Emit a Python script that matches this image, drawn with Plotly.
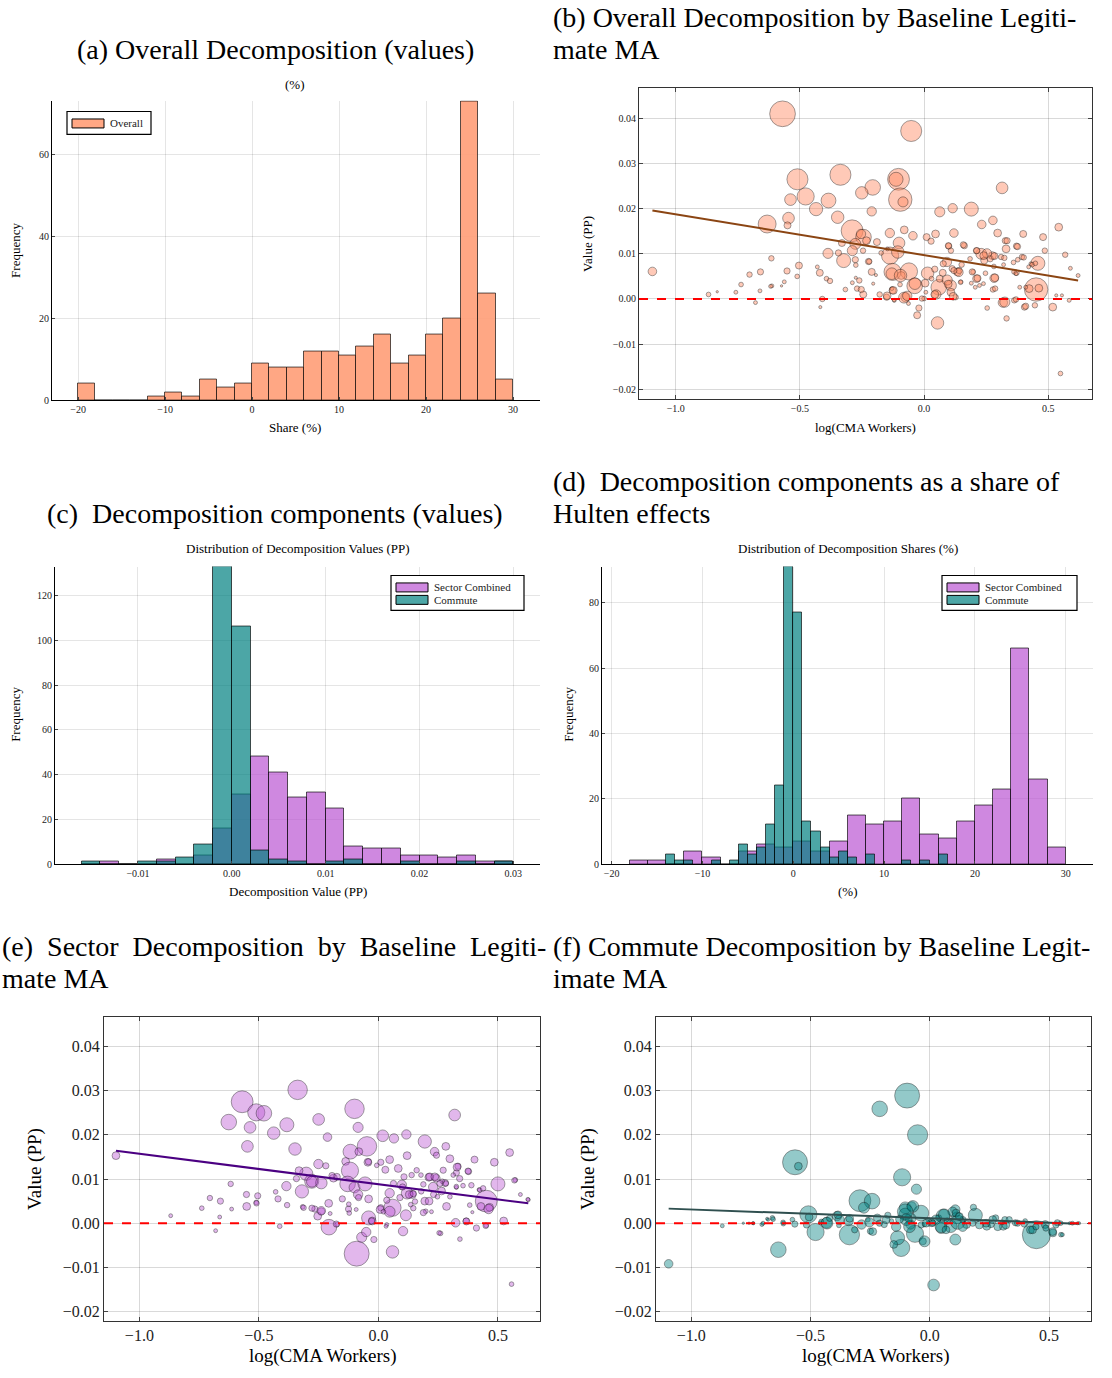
import plotly.graph_objects as go

W, H = 1112, 1378
def PX(x): return x / W
def PY(y): return 1 - y / H

SERIF = "Liberation Serif"

# ---------------- (a) Overall shares histogram ----------------
a_bin_left = [-20, -18, -16, -14, -12, -10, -8, -6, -4, -2, 0, 2, 4, 6, 8, 10, 12, 14, 16, 18, 20, 22, 24, 26, 28]
a_counts   = [4, 0, 0, 0, 1, 2, 1, 5, 3, 4, 9, 8, 8, 12, 12, 11, 13, 16, 9, 11, 16, 20, 73, 26, 5]
a_bin_width = 2

# ---------------- (c) decomposition values histogram ----------------
c_bin_left = [-0.016, -0.014, -0.012, -0.010, -0.008, -0.006, -0.004, -0.002, 0.000, 0.002, 0.004, 0.006,
              0.008, 0.010, 0.012, 0.014, 0.016, 0.018, 0.020, 0.022, 0.024, 0.026, 0.028]
c_sector   = [0, 1, 0, 0, 2, 0, 4, 16, 31, 48, 41, 30, 32, 25, 8, 7, 7, 4, 4, 3, 4, 1, 1]
c_commute  = [1, 0, 0, 1, 1, 3, 9, 133, 106, 6, 2, 1, 0, 1, 2, 0, 0, 1, 0, 0, 1, 0, 1]
c_bin_width = 0.002

# ---------------- (d) decomposition shares histogram ----------------
d_sector_left = [-18, -16, -14, -12, -10, -8, -6, -4, -2, 0, 2, 4, 6, 8, 10, 12, 14, 16, 18, 20, 22, 24, 26, 28]
d_sector      = [1, 1, 0, 4, 2, 0, 4, 6, 5, 7, 4, 7, 15, 12, 13, 20, 9, 8, 13, 18, 23, 66, 26, 5]
d_sector_width = 2
d_commute_left = [-14, -13, -12, -9, -7, -6, -5, -4, -3, -2, -1, 0, 1, 2, 3, 4, 5, 6, 8, 12, 14, 16]
d_commute      = [3, 1, 1, 1, 1, 6, 3, 5, 12, 24, 91, 77, 13, 10, 5, 2, 4, 2, 3, 1, 1, 3]
d_commute_width = 1

# ---------------- (b) overall value vs log(CMA workers) ----------------
b_x = [-0.570, -0.052, -0.510, -0.337, -0.103, -0.113, -0.096, -0.085, -0.207, -0.251, -0.477, -0.538,
       -0.385, -0.435, -0.632, -0.546, -0.550, -0.348, -0.211, -0.290, -0.244, -0.254, -0.277, -0.289,
       -0.331, -0.387, -0.324, -0.345, -0.232, -0.190, -0.224, -0.138, -0.101, -0.080, -0.045, -0.137,
       -0.106, -0.127, -0.130, -0.061, -0.038, -0.092, -0.075, 0.014, 0.059, 0.049, 0.108, 0.108,
       0.054, 0.063, 0.115, 0.190, 0.232, 0.277, 0.314, 0.296, 0.120, 0.046, 0.010, 0.028,
       0.399, 0.542, 0.479, 0.458, 0.451, 0.423, 0.327, 0.330, 0.372, 0.230, 0.275, 0.211,
       0.162, 0.099, 0.092, 0.134, 0.141, 0.211, 0.282, 0.277, 0.372, 0.317, 0.363, 0.404,
       0.446, 0.518, 0.332, 0.254, 0.549, 0.568, 0.589, 0.620, 0.486, 0.430, 0.394, -1.094,
       -0.868, -0.758, -0.737, -0.703, -0.679, -0.659, -0.661, -0.615, -0.613, -0.552, -0.563, -0.504,
       -0.511, -0.430, -0.420, -0.393, -0.379, -0.410, -0.418, -0.317, -0.289, -0.261, -0.270, -0.245,
       -0.211, -0.179, -0.151, -0.127, -0.120, -0.063, -0.021, -0.028, 0.000, 0.007, 0.063, 0.127,
       0.148, 0.239, -0.173, -0.148, 0.077, 0.113, 0.197, 0.242, 0.310, 0.362, 0.584, 0.555]
b_y = [0.0410, 0.0372, 0.0265, 0.0275, 0.0265, 0.0265, 0.0220, 0.0215, 0.0247, 0.0235, 0.0227, 0.0220,
       0.0218, 0.0199, 0.0166, 0.0179, 0.0163, 0.0181, 0.0194, 0.0151, 0.0137, 0.0144, 0.0122, 0.0107,
       0.0124, 0.0101, 0.0085, 0.0102, 0.0129, 0.0126, 0.0083, 0.0146, 0.0124, 0.0153, 0.0140, 0.0096,
       0.0104, 0.0060, 0.0056, 0.0061, 0.0029, 0.0052, 0.0004, 0.0057, 0.0026, 0.0010, 0.0030, 0.0015,
       -0.0053, 0.0193, 0.0201, 0.0199, 0.0165, 0.0174, 0.0246, 0.0146, 0.0146, 0.0144, 0.0137, 0.0128,
       0.0144, 0.0159, 0.0137, 0.0079, 0.0021, 0.0023, 0.0129, 0.0111, 0.0117, 0.0100, 0.0096, 0.0107,
       0.0118, 0.0117, 0.0082, 0.0060, 0.0063, 0.0045, 0.0046, 0.0021, 0.0058, -0.0008, -0.0003, -0.0018,
       -0.0014, -0.0018, -0.0043, -0.0020, -0.0165, 0.0098, 0.0068, 0.0052, 0.0107, 0.0078, 0.0093, 0.0061,
       0.0010, 0.0015, 0.0032, 0.0054, -0.0008, 0.0060, 0.0018, 0.0090, 0.0029, 0.0062, 0.0038, 0.0074,
       0.0050, 0.0071, 0.0058, 0.0045, 0.0040, 0.0000, -0.0018, 0.0021, 0.0036, 0.0041, 0.0023, 0.0010,
       0.0060, 0.0010, 0.0004, 0.0019, -0.0003, -0.0010, -0.0020, -0.0036, 0.0001, 0.0015, 0.0045, 0.0004,
       0.0038, 0.0034, 0.0102, 0.0111, 0.0078, 0.0067, 0.0060, 0.0085, 0.0093, 0.0060, -0.0003, 0.0008]
b_w = [33, 27, 27, 27, 28, 18, 30, 13, 20, 16, 22, 15,
       19, 17, 23, 15, 9, 16, 12, 28, 20, 12, 14, 13,
       9, 13, 18, 8, 10, 9, 8, 12, 15, 10, 11, 22,
       16, 22, 15, 22, 20, 10, 12, 16, 20, 12, 14, 10,
       16, 13, 12, 18, 11, 11, 15, 10, 11, 10, 9, 8,
       9, 10, 9, 18, 30, 10, 8, 10, 8, 14, 10, 8,
       8, 8, 12, 10, 8, 10, 11, 7, 7, 12, 7, 8,
       7, 10, 7, 6, 6, 7, 5, 5, 7, 5, 7, 11,
       6, 5, 6, 7, 5, 8, 5, 7, 5, 8, 5, 9,
       6, 5, 9, 6, 7, 7, 4, 6, 5, 7, 7, 9,
       9, 7, 8, 9, 5, 5, 8, 9, 6, 5, 9, 7,
       5, 5, 6, 5, 8, 8, 6, 9, 7, 6, 5, 4]
b_more_x = [-0.833, -0.618, -0.574, -0.275, -0.253, -0.277, -0.275, -0.246, -0.221, -0.205, -0.194, -0.130,
            -0.121, -0.097, -0.081, 0.334, 0.376, 0.462, 0.409, 0.325, 0.370, 0.286, 0.285, 0.215,
            0.194, 0.140, 0.043, 0.004, -0.037, -0.095, -0.124, 0.117, 0.158, 0.098, 0.108, 0.151,
            0.185, 0.212, 0.253, 0.240, 0.266, 0.283, 0.323, 0.360, 0.370, 0.401, 0.435, 0.448,
            0.421, 0.377, 0.281, 0.320, 0.247, 0.190, 0.223, 0.206, 0.385, 0.409, 0.532, 0.147,
            0.093, -0.009, -0.068, -0.149, 0.043, 0.030, 0.075, 0.120, 0.097]
b_more_y = [0.0016, 0.0028, 0.0029, 0.0047, 0.0021, 0.0087, 0.0075, 0.0107, 0.0083, 0.0034, 0.0053, 0.0023,
            -0.0003, 0.0032, 0.0003, 0.0129, 0.0116, 0.0024, -0.0016, -0.0007, -0.0001, 0.0023, 0.0047, 0.0046,
            0.0060, 0.0059, 0.0010, 0.0035, 0.0034, 0.0052, 0.0019, 0.0006, 0.0120, 0.0118, 0.0107, 0.0076,
            0.0089, 0.0107, 0.0101, 0.0096, 0.0089, 0.0095, 0.0091, 0.0081, 0.0056, 0.0092, 0.0076, 0.0079,
            0.0071, 0.0087, 0.0072, 0.0076, 0.0057, 0.0035, 0.0030, 0.0026, 0.0026, 0.0026, 0.0008, 0.0037,
            0.0042, 0.0001, 0.0007, 0.0007, 0.0066, 0.0045, 0.0058, 0.0063, 0.0033]
b_more_w = [3, 5, 3, 4, 8, 8, 6, 7, 7, 4, 4, 5,
            4, 6, 14, 8, 8, 10, 8, 13, 7, 7, 10, 9,
            8, 11, 10, 10, 15, 16, 10, 10, 8, 8, 7, 7,
            6, 8, 12, 10, 8, 9, 7, 6, 5, 7, 6, 6,
            5, 6, 6, 5, 6, 5, 5, 5, 5, 5, 4, 6,
            13, 7, 12, 10, 8, 6, 9, 8, 10]
b_fit_x = [-1.094, 0.620]
b_fit_y = [0.0196, 0.0041]

# ---------------- (e) sector value vs log(CMA workers) ----------------
e_x = [-0.570, -0.338, -0.511, -0.479, -0.626, -0.537, -0.548, -0.438, -0.383, -0.250, -0.349, -0.213,
       -0.100, -0.085, -0.048, -0.117, -0.082, 0.018, 0.065, 0.117, 0.194, 0.319, 0.235, 0.282,
       0.120, 0.047, 0.010, 0.029, -0.044, -0.137, -0.251, -0.220, -0.119, -0.302, -0.332, -0.279,
       -0.239, -0.320, -0.129, -0.100, -0.056, -0.188, -0.085, -0.041, 0.047, 0.098, 0.120, 0.142,
       0.059, 0.047, 0.115, -0.041, -0.026, -0.070, -0.051, -0.091, 0.059, -0.207, 0.103, -0.019,
       0.194, 0.211, 0.242, 0.279, 0.326, 0.333, 0.377, 0.402, 0.485, 0.549, 0.500, 0.451,
       0.465, 0.429, 0.524, 0.323, 0.367, 0.410, 0.451, 0.260, 0.341, 0.557, 0.573, 0.594,
       0.627, 0.285, 0.231, -1.098, -0.869, -0.739, -0.705, -0.681, -0.661, -0.664, -0.618, -0.614,
       -0.552, -0.551, -0.505, -0.511, -0.430, -0.420, -0.382, -0.413, -0.317, -0.266, -0.254, -0.239,
       -0.173, -0.151, -0.125, -0.122, 0.010, 0.035, 0.135, 0.179, 0.326, 0.421, 0.198, 0.267]
e_y = [0.0275, 0.0302, 0.0251, 0.0249, 0.0229, 0.0217, 0.0174, 0.0204, 0.0223, 0.0235, 0.0168, 0.0195,
       0.0259, 0.0217, 0.0174, 0.0162, 0.0162, 0.0198, 0.0192, 0.0201, 0.0185, 0.0245, 0.0162, 0.0174,
       0.0153, 0.0144, 0.0138, 0.0121, 0.0138, 0.0140, 0.0134, 0.0130, 0.0119, 0.0112, 0.0119, 0.0095,
       0.0091, 0.0072, 0.0089, 0.0081, 0.0089, 0.0102, 0.0065, 0.0055, 0.0068, 0.0087, 0.0068, 0.0065,
       0.0035, 0.0026, 0.0018, 0.0012, 0.0005, -0.0032, -0.0020, -0.0069, -0.0065, -0.0009, -0.0018, -0.0037,
       0.0050, 0.0104, 0.0102, 0.0091, 0.0114, 0.0129, 0.0117, 0.0144, 0.0138, 0.0160, 0.0089, 0.0050,
       0.0036, 0.0038, 0.0005, 0.0001, 0.0005, -0.0011, -0.0005, -0.0023, -0.0036, -0.0138, 0.0098, 0.0065,
       0.0053, 0.0038, 0.0065, 0.0153, 0.0017, 0.0034, 0.0057, -0.0017, 0.0050, 0.0014, 0.0089, 0.0032,
       0.0065, 0.0038, 0.0062, 0.0047, 0.0071, 0.0055, 0.0041, -0.0007, 0.0037, 0.0032, 0.0016, 0.0027,
       -0.0003, 0.0055, 0.0032, 0.0023, 0.0035, -0.0003, 0.0042, 0.0072, 0.0081, 0.0076, 0.0027, 0.0095]
e_w = [28, 25, 22, 20, 20, 15, 15, 16, 18, 15, 16, 11,
       25, 13, 25, 19, 10, 15, 12, 12, 17, 15, 11, 10,
       10, 10, 8, 9, 10, 10, 12, 8, 22, 17, 10, 18,
       15, 17, 20, 14, 18, 10, 12, 10, 12, 12, 15, 10,
       22, 14, 14, 18, 10, 13, 12, 32, 16, 20, 12, 8,
       10, 10, 10, 9, 8, 8, 8, 9, 10, 10, 18, 28,
       10, 10, 10, 11, 8, 8, 6, 6, 6, 6, 6, 5,
       5, 10, 8, 10, 5, 6, 7, 5, 8, 5, 7, 5,
       8, 10, 8, 6, 6, 8, 7, 6, 6, 8, 10, 9,
       6, 8, 8, 6, 8, 5, 6, 7, 5, 5, 6, 6]
e_more_x = [-0.278, -0.385, -0.343, -0.174, -0.194, -0.083, -0.124, -0.042, 0.083, 0.107, 0.139, 0.160,
            0.063, 0.129, 0.146, 0.101, 0.090, 0.153, 0.188, 0.215, 0.236, 0.229, 0.257, 0.282,
            0.264, 0.247, 0.212, 0.188, 0.146, 0.035, 0.007, -0.028, -0.176, -0.239, -0.278, -0.313,
            -0.208, -0.202, -0.093, -0.510, 0.368, 0.449, 0.461, 0.569, 0.625, 0.375, 0.329, 0.299,
            0.340, 0.389, 0.354, 0.326, 0.424, 0.438, 0.382, 0.393, 0.299, 0.222, 0.243, 0.271,
            0.313, 0.178, -0.007, 0.021, 0.032, 0.254]
e_more_y = [0.0094, 0.0084, 0.0101, 0.0105, 0.0108, 0.0058, 0.0043, 0.0139, 0.0124, 0.0105, 0.0109, 0.0120,
            0.0090, 0.0065, 0.0067, 0.0082, 0.0058, 0.0049, 0.0088, 0.0105, 0.0105, 0.0082, 0.0090, 0.0090,
            0.0073, 0.0060, 0.0050, 0.0024, 0.0034, 0.0052, 0.0031, 0.0005, -0.0002, 0.0028, 0.0034, 0.0035,
            0.0045, 0.0022, 0.0031, 0.0045, 0.0004, -0.0006, 0.0032, 0.0097, 0.0054, 0.0118, 0.0127, 0.0146,
            0.0101, 0.0086, 0.0085, 0.0083, 0.0075, 0.0079, 0.0041, 0.0025, 0.0060, 0.0026, 0.0154, 0.0120,
            0.0109, 0.0109, 0.0131, 0.0026, -0.0007, -0.0022]
e_more_w = [14, 12, 8, 9, 8, 8, 6, 8, 10, 8, 7, 7,
            8, 10, 8, 8, 8, 7, 7, 10, 10, 12, 8, 7,
            10, 6, 10, 8, 7, 8, 10, 8, 8, 11, 8, 7,
            10, 5, 5, 7, 9, 7, 12, 7, 5, 8, 10, 10,
            8, 7, 6, 6, 6, 7, 6, 4, 6, 5, 8, 8,
            6, 6, 6, 6, 5, 6]
e_fit_x = [-1.098, 0.627]
e_fit_y = [0.0164, 0.0045]

# ---------------- (f) commute value vs log(CMA workers) ----------------
f_x = [-0.095, -0.210, -0.051, -0.565, -0.551, -0.116, -0.056, -0.293, -0.242, -0.276, -0.509, -0.506,
       -0.479, -0.635, -0.337, -1.095, 0.016, -0.120, -0.135, -0.151, -0.062, -0.037, -0.103, -0.076,
       -0.103, -0.081, -0.029, 0.056, 0.048, 0.088, 0.107, 0.107, 0.114, 0.191, 0.183, 0.447,
       0.422, 0.516, 0.550, 0.535, 0.308, 0.276, 0.239, 0.359, 0.400, 0.484, 0.257, 0.154,
       0.007, -0.191, -0.176, -0.220, -0.249, -0.286, -0.340, -0.389, -0.433, -0.381, -0.576, -0.614,
       -0.660, -0.682, -0.704, -0.740, -0.758, -0.870, 0.620, 0.587, 0.315, 0.037, 0.073, 0.139,
       -0.007, -0.161, -0.260, -0.459, -0.022, -0.081]
f_y = [0.0289, 0.0259, 0.0200, 0.0138, 0.0129, 0.0104, 0.0077, 0.0051, 0.0050, 0.0035, 0.0020, 0.0014,
       -0.0020, -0.0060, -0.0026, -0.0092, -0.0140, -0.0056, -0.0033, -0.0048, -0.0024, 0.0023, 0.0035, 0.0038,
       0.0020, -0.0003, -0.0041, 0.0016, -0.0011, -0.0007, -0.0037, 0.0031, 0.0012, 0.0018, 0.0036, -0.0026,
       -0.0015, -0.0022, -0.0026, 0.0001, -0.0007, 0.0012, -0.0007, 0.0001, 0.0005, -0.0003, -0.0003, -0.0003,
       0.0001, -0.0003, 0.0018, 0.0012, -0.0018, -0.0003, 0.0005, 0.0016, 0.0001, -0.0005, 0.0008, -0.0001,
       0.0012, 0.0010, -0.0003, 0.0000, 0.0000, -0.0006, 0.0000, 0.0000, 0.0008, 0.0012, 0.0005, 0.0008,
       0.0008, 0.0005, 0.0008, 0.0001, -0.0003, 0.0011]
f_w = [32, 20, 26, 32, 10, 22, 13, 28, 20, 14, 22, 10,
       22, 20, 26, 11, 15, 22, 18, 10, 22, 20, 15, 12,
       16, 12, 9, 18, 14, 16, 14, 12, 15, 18, 8, 36,
       10, 10, 6, 8, 10, 8, 10, 8, 6, 10, 8, 10,
       10, 8, 8, 10, 8, 12, 12, 12, 14, 6, 6, 6,
       6, 4, 5, 4, 3, 5, 4, 4, 8, 8, 8, 8,
       6, 6, 6, 5, 6, 14]
f_more_x = [-0.071, -0.103, -0.099, -0.085, -0.141, -0.127, -0.183, -0.211, -0.239, -0.253, -0.315, -0.336,
            -0.378, -0.385, -0.431, -0.420, -0.455, -0.517, -0.566, -0.657, -0.615, -0.678, -0.699, -0.741,
            -0.782, 0.026, 0.047, 0.061, 0.096, 0.117, 0.110, 0.124, 0.138, 0.068, 0.236, 0.264,
            0.285, 0.319, 0.333, 0.368, 0.396, 0.431, 0.445, 0.487, 0.515, 0.529, 0.556, 0.549,
            0.598, 0.626, -0.036, -0.015, 0.013, 0.180, 0.208, 0.304, -0.022]
f_more_y = [0.0038, 0.0026, 0.0008, -0.0008, -0.0008, 0.0009, 0.0008, 0.0000, -0.0019, 0.0002, -0.0015, 0.0011,
            0.0008, 0.0019, 0.0000, 0.0011, 0.0004, -0.0004, -0.0002, 0.0009, 0.0002, 0.0008, 0.0000, 0.0000,
            0.0000, 0.0008, -0.0008, 0.0019, 0.0026, 0.0002, 0.0023, 0.0015, -0.0008, -0.0015, 0.0000, 0.0008,
            -0.0008, -0.0004, 0.0008, 0.0000, -0.0002, -0.0015, -0.0008, -0.0011, -0.0019, -0.0004, -0.0026, 0.0000,
            0.0000, 0.0000, -0.0004, 0.0000, 0.0000, 0.0000, -0.0004, 0.0002, -0.0041]
f_more_w = [15, 20, 15, 15, 12, 10, 10, 8, 10, 12, 8, 10,
            12, 10, 15, 8, 6, 8, 8, 6, 6, 4, 5, 4,
            3, 12, 15, 15, 12, 18, 10, 10, 12, 10, 10, 10,
            10, 10, 8, 8, 8, 10, 8, 8, 10, 8, 5, 6,
            5, 4, 8, 10, 8, 8, 10, 6, 14]
f_fit_x = [-1.095, 0.620]
f_fit_y = [0.0033, -0.0001]

# ---------------- styling ----------------
SALMON = "rgba(255,160,122,0.92)"
SALMON_PT = "rgba(255,140,100,0.66)"
ORCHID = "rgba(186,85,211,0.7)"
ORCHID_PT = "rgba(186,85,211,0.6)"
TEAL = "rgba(0,128,128,0.7)"
TEAL_PT = "rgba(0,128,128,0.6)"
BAR_LINE = dict(color="rgba(0,0,0,0.65)", width=1)
PT_LINE = dict(color="rgba(0,0,0,0.65)", width=0.8)
SIZE_SCALE = 0.78

fig = go.Figure()

def centers(lefts, w):
    return [l + w / 2 for l in lefts]

# (a)
fig.add_trace(go.Bar(x=centers(a_bin_left, a_bin_width), y=a_counts, width=a_bin_width,
                     marker=dict(color=SALMON, line=BAR_LINE), name="Overall", showlegend=False,
                     xaxis="x", yaxis="y"))
# (c)
fig.add_trace(go.Bar(x=centers(c_bin_left, c_bin_width), y=c_sector, width=c_bin_width,
                     marker=dict(color=ORCHID, line=BAR_LINE), name="Sector Combined", showlegend=False,
                     xaxis="x3", yaxis="y3"))
fig.add_trace(go.Bar(x=centers(c_bin_left, c_bin_width), y=c_commute, width=c_bin_width,
                     marker=dict(color=TEAL, line=BAR_LINE), name="Commute", showlegend=False,
                     xaxis="x3", yaxis="y3"))
# (d)
fig.add_trace(go.Bar(x=centers(d_sector_left, d_sector_width), y=d_sector, width=d_sector_width,
                     marker=dict(color=ORCHID, line=BAR_LINE), name="Sector Combined", showlegend=False,
                     xaxis="x4", yaxis="y4"))
fig.add_trace(go.Bar(x=centers(d_commute_left, d_commute_width), y=d_commute, width=d_commute_width,
                     marker=dict(color=TEAL, line=BAR_LINE), name="Commute", showlegend=False,
                     xaxis="x4", yaxis="y4"))

def scatter_panel(xs, ys, ws, color, fx, fy, lcolor, xa, ya):
    fig.add_trace(go.Scatter(x=xs, y=ys, mode="markers", showlegend=False,
                             marker=dict(size=[w * SIZE_SCALE for w in ws], color=color, line=PT_LINE,
                                         sizemode="diameter"),
                             xaxis=xa, yaxis=ya))
    fig.add_trace(go.Scatter(x=fx, y=fy, mode="lines", showlegend=False,
                             line=dict(color=lcolor, width=2), xaxis=xa, yaxis=ya))
    fig.add_shape(type="line", xref=xa + " domain", x0=0, x1=1, yref=ya, y0=0, y1=0,
                  line=dict(color="red", width=2, dash="dash"))

scatter_panel(b_x + b_more_x, b_y + b_more_y, b_w + b_more_w, SALMON_PT, b_fit_x, b_fit_y, "#8B4513", "x2", "y2")
scatter_panel(e_x + e_more_x, e_y + e_more_y, e_w + e_more_w, ORCHID_PT, e_fit_x, e_fit_y, "#4B0082", "x5", "y5")
scatter_panel(f_x + f_more_x, f_y + f_more_y, f_w + f_more_w, TEAL_PT, f_fit_x, f_fit_y, "#2F4F4F", "x6", "y6")

GRID = "rgba(0,0,0,0.10)"

def hist_axes(xd, yd, xr, yr, xt, xtt, yt, fs=10):
    xa = dict(domain=xd, range=xr, tickvals=xt, ticktext=xtt, showgrid=True, gridcolor=GRID,
              showline=True, linecolor="black", linewidth=1, ticks="inside", ticklen=3,
              zeroline=False, tickfont=dict(family=SERIF, size=fs, color="#222"))
    ya = dict(domain=yd, range=yr, tickvals=yt, ticktext=[str(v) for v in yt], showgrid=True,
              gridcolor=GRID, showline=True, linecolor="black", linewidth=1, ticks="inside",
              ticklen=3, zeroline=False, tickfont=dict(family=SERIF, size=fs, color="#222"))
    return xa, ya

def scat_axes(xd, yd, fs):
    xa = dict(domain=xd, range=[-1.148, 0.676], tickvals=[-1.0, -0.5, 0.0, 0.5],
              ticktext=["\u22121.0", "\u22120.5", "0.0", "0.5"], showgrid=True,
              gridcolor="rgba(0,0,0,0.15)", showline=True, mirror="allticks", linecolor="rgba(0,0,0,0.8)",
              linewidth=1, ticks="inside", ticklen=4, zeroline=False,
              tickfont=dict(family=SERIF, size=fs, color="#222"))
    ya = dict(domain=yd, range=[-0.0222, 0.0468], tickvals=[-0.02, -0.01, 0.0, 0.01, 0.02, 0.03, 0.04],
              ticktext=["\u22120.02", "\u22120.01", "0.00", "0.01", "0.02", "0.03", "0.04"],
              showgrid=True, gridcolor="rgba(0,0,0,0.15)", showline=True, mirror="allticks",
              linecolor="rgba(0,0,0,0.8)", linewidth=1, ticks="inside", ticklen=4, zeroline=False,
              tickfont=dict(family=SERIF, size=fs, color="#222"))
    return xa, ya

xa1, ya1 = hist_axes([PX(52), PX(540)], [PY(402), PY(101)], [-23.0, 33.1], [0, 73.2],
                     [-20, -10, 0, 10, 20, 30], ["\u221220", "\u221210", "0", "10", "20", "30"],
                     [0, 20, 40, 60])
xa2, ya2 = scat_axes([PX(639), PX(1092)], [PY(401), PY(88)], 10)
xa3, ya3 = hist_axes([PX(55), PX(540)], [PY(868), PY(569)], [-0.01884, 0.03284], [0, 133],
                     [-0.01, 0.0, 0.01, 0.02, 0.03], ["\u22120.01", "0.00", "0.01", "0.02", "0.03"],
                     [0, 20, 40, 60, 80, 100, 120])
xa4, ya4 = hist_axes([PX(602), PX(1093)], [PY(868), PY(569)], [-21.06, 33.0], [0, 91.1],
                     [-20, -10, 0, 10, 20, 30], ["\u221220", "\u221210", "0", "10", "20", "30"],
                     [0, 20, 40, 60, 80])
xa5, ya5 = scat_axes([PX(104), PX(540)], [PY(1327), PY(1021)], 16)
xa6, ya6 = scat_axes([PX(656), PX(1091)], [PY(1327), PY(1021)], 16)

layout_axes = {}
for i, (xa, ya) in enumerate([(xa1, ya1), (xa2, ya2), (xa3, ya3), (xa4, ya4), (xa5, ya5), (xa6, ya6)], start=1):
    sfx = "" if i == 1 else str(i)
    xa["anchor"] = "y" + sfx
    ya["anchor"] = "x" + sfx
    layout_axes["xaxis" + sfx] = xa
    layout_axes["yaxis" + sfx] = ya

fig.update_layout(
    width=W, height=H, margin=dict(l=0, r=0, t=0, b=0),
    paper_bgcolor="white", plot_bgcolor="white", barmode="overlay", bargap=0,
    showlegend=False,
    **layout_axes,
)

def text(x, y, s, size, anchor="center", angle=0):
    fig.add_annotation(x=PX(x), y=PY(y), xref="paper", yref="paper", text=s, showarrow=False,
                       xanchor=anchor, yanchor="middle", textangle=angle,
                       font=dict(family=SERIF, size=size, color="black"))

# legends drawn as boxes with swatches and text entries
def legend(x0, y0, x1, y1, entries):
    fig.add_shape(type="rect", xref="paper", yref="paper", x0=PX(x0), x1=PX(x1), y0=PY(y1), y1=PY(y0),
                  fillcolor="white", line=dict(color="black", width=1.2), layer="above")
    for k, (label, col) in enumerate(entries):
        cy = y0 + 12 + k * 12.5
        fig.add_shape(type="rect", xref="paper", yref="paper", x0=PX(x0 + 5), x1=PX(x0 + 37),
                      y0=PY(cy + 4.5), y1=PY(cy - 4.5), fillcolor=col,
                      line=dict(color="black", width=1), layer="above")
        fig.add_annotation(x=PX(x0 + 41), y=PY(cy), xref="paper", yref="paper", text=label,
                           showarrow=False, xanchor="left", yanchor="middle",
                           font=dict(family=SERIF, size=11, color="#222"))

legend(67, 112, 151, 135, [("Overall", SALMON)])
legend(391, 578, 524, 613, [("Sector Combined", ORCHID), ("Commute", TEAL)])
legend(942, 578, 1077, 613, [("Sector Combined", ORCHID), ("Commute", TEAL)])

TS = 28
# panel titles
text(275, 50, "(a) Overall Decomposition (values)", TS)
text(551, 18, "(b) Overall Decomposition by Baseline Legiti-", TS, "left")
text(551, 50, "mate MA", TS, "left")
text(275, 516, "(c)  Decomposition components (values)", TS)
text(551, 484, "(d)  Decomposition components as a share of", TS, "left")
text(551, 516, "Hulten effects", TS, "left")
text(0, 951, "(e)  Sector  Decomposition  by  Baseline  Legiti-", TS, "left")
text(0, 983, "mate MA", TS, "left")
text(551, 951, "(f) Commute Decomposition by Baseline Legit-", TS, "left")
text(551, 983, "imate MA", TS, "left")

# subtitles
text(295, 85, "(%)", 13)
text(298, 551, "Distribution of Decomposition Values (PP)", 13)
text(848, 551, "Distribution of Decomposition Shares (%)", 13)

# axis labels
text(16, 252, "Frequency", 13, angle=-90)
text(295, 429, "Share (%)", 13)
text(588, 245, "Value (PP)", 13, angle=-90)
text(865, 429, "log(CMA Workers)", 13)
text(16, 718, "Frequency", 13, angle=-90)
text(298, 895, "Decomposition Value (PP)", 13)
text(569, 718, "Frequency", 13, angle=-90)
text(848, 895, "(%)", 13)
text(35, 1174, "Value (PP)", 19, angle=-90)
text(322, 1362, "log(CMA Workers)", 19)
text(588, 1174, "Value (PP)", 19, angle=-90)
text(875, 1362, "log(CMA Workers)", 19)

fig.write_html("out.html")
